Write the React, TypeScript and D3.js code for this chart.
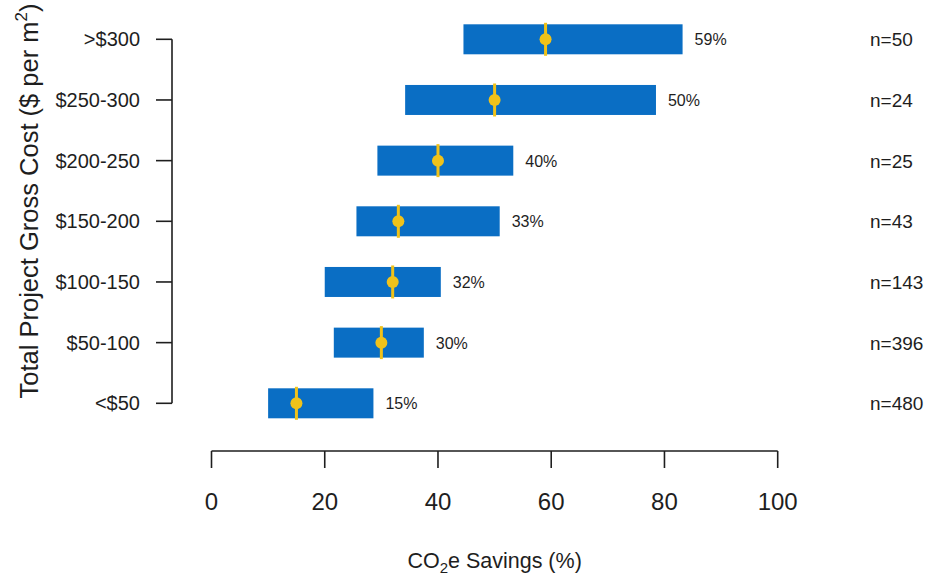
import React from "react";
import * as d3 from "d3";

// Cost bands, top to bottom
const categories = [">$300", "$250-300", "$200-250", "$150-200", "$100-150", "$50-100", "<$50"];
// Interquartile range of CO2e savings (%) per cost band
const lowerQ = [44.5, 34.2, 29.3, 25.6, 20.0, 21.6, 10.0];
const upperQ = [83.2, 78.5, 53.3, 50.9, 40.5, 37.5, 28.6];
// Median savings (%)
const medians = [59, 50, 40, 33, 32, 30, 15];
// Sample sizes
const counts = [50, 24, 25, 43, 143, 396, 480];
// X axis ticks
const xTicks = [0, 20, 40, 60, 80, 100];

const W = 929;
const H = 578;
const FONT = "'Liberation Sans', Arial, Helvetica, sans-serif";
const BLUE = "#0A6EC4";
const GOLD = "#F0C21A";
const INK = "#1e1e1e";

export default function App() {
  const x = d3.scaleLinear().domain([0, 100]).range([211.5, 777.7]);
  const y = d3.scalePoint<string>().domain(categories).range([39.3, 403.3]);
  const barH = 30;
  const yAxisX = 172;
  const xAxisY = 451;
  const rows = categories.map((c, i) => ({
    c,
    lo: lowerQ[i],
    hi: upperQ[i],
    med: medians[i],
    n: counts[i],
  }));

  return (
    <svg
      width={W}
      height={H}
      viewBox={`0 0 ${W} ${H}`}
      style={{ position: "absolute", left: 0, top: 0, background: "#fff" }}
      fontFamily={FONT}
    >
      <rect width={W} height={H} fill="#fff" />

      {/* Y axis */}
      <line x1={yAxisX} x2={yAxisX} y1={y(categories[0])} y2={y(categories[categories.length - 1])} stroke={INK} strokeWidth={1.6} />
      {categories.map((c) => (
        <g key={c}>
          <line x1={yAxisX - 16} x2={yAxisX} y1={y(c)} y2={y(c)} stroke={INK} strokeWidth={1.6} />
          <text x={140} y={(y(c) as number) + 7} textAnchor="end" fontSize={20} fill={INK}>
            {c}
          </text>
        </g>
      ))}
      <text transform="translate(38,201) rotate(-90)" textAnchor="middle" fontSize={25.5} fill={INK}>
        Total Project Gross Cost ($ per m
        <tspan fontSize={17} dy={-11}>2</tspan>
        <tspan dy={11}>)</tspan>
      </text>

      {/* X axis */}
      <line x1={x(0)} x2={x(100)} y1={xAxisY} y2={xAxisY} stroke={INK} strokeWidth={1.6} />
      {xTicks.map((t) => (
        <g key={t}>
          <line x1={x(t)} x2={x(t)} y1={xAxisY} y2={xAxisY + 17} stroke={INK} strokeWidth={1.6} />
          <text x={x(t)} y={510} textAnchor="middle" fontSize={24} fill={INK}>
            {t}
          </text>
        </g>
      ))}
      <text x={(x(0) + x(100)) / 2} y={568} textAnchor="middle" fontSize={21.5} fill={INK}>
        CO
        <tspan fontSize={15} dy={5}>2</tspan>
        <tspan dy={-5}>e Savings (%)</tspan>
      </text>

      {/* Bars with median markers */}
      {rows.map((r) => {
        const cy = y(r.c) as number;
        return (
          <g key={r.c}>
            <rect x={x(r.lo)} y={cy - barH / 2} width={x(r.hi) - x(r.lo)} height={barH} fill={BLUE} />
            <line x1={x(r.med)} x2={x(r.med)} y1={cy - barH / 2 - 1.5} y2={cy + barH / 2 + 1.5} stroke={GOLD} strokeWidth={3} />
            <circle cx={x(r.med)} cy={cy} r={6} fill={GOLD} />
            <text x={x(r.hi) + 12} y={cy + 6} fontSize={16} fill={INK}>
              {`${r.med}%`}
            </text>
            <text x={870} y={cy + 7} fontSize={19} fill={INK}>
              {`n=${r.n}`}
            </text>
          </g>
        );
      })}
    </svg>
  );
}
